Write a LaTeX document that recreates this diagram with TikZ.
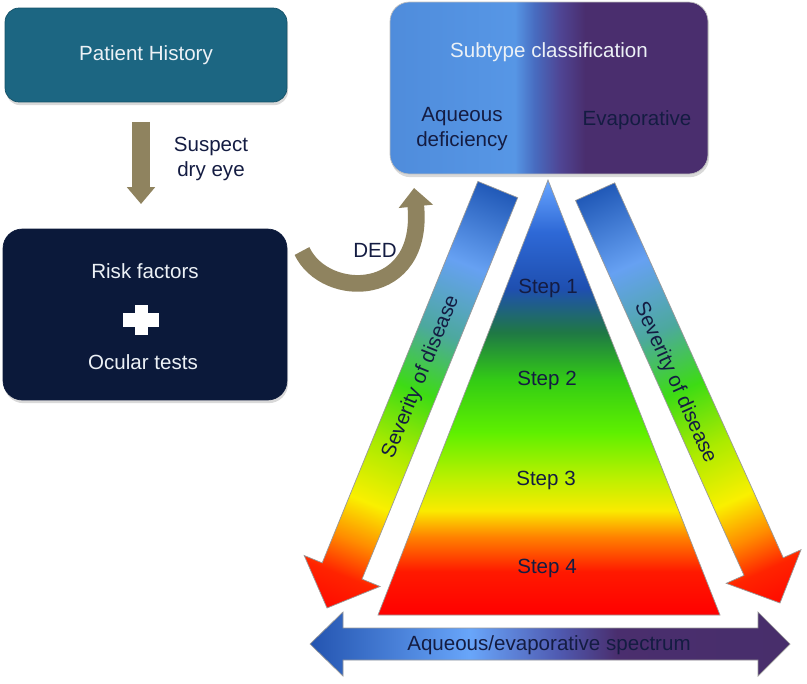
\documentclass[tikz,border=0pt]{standalone}
\usepackage{fontspec}
\setmainfont{Liberation Sans}
\usetikzlibrary{arrows.meta,calc,shadows}

\definecolor{histteal}{RGB}{28,102,130}
\definecolor{risknavy}{RGB}{11,25,58}
\definecolor{khaki}{RGB}{143,131,95}
\definecolor{inktext}{RGB}{20,28,66}
\definecolor{boxtext}{RGB}{236,241,246}

\pgfdeclareverticalshading{stepshade}{100bp}{rgb(0bp)=(1,0,0); rgb(25bp)=(1,0,0);
  rgb(30bp)=(1,0.1,0); rgb(34bp)=(1,0.51,0); rgb(37bp)=(0.98,0.92,0);
  rgb(40.5bp)=(0.75,0.94,0); rgb(46bp)=(0.37,0.94,0); rgb(52bp)=(0.2,0.8,0.08);
  rgb(57.5bp)=(0.12,0.47,0.27); rgb(62.5bp)=(0.12,0.31,0.69); rgb(69bp)=(0.18,0.41,0.84);
  rgb(75bp)=(0.41,0.65,1); rgb(100bp)=(0.41,0.65,1)}
\pgfdeclareverticalshading{sevshade}{100bp}{rgb(0bp)=(1,0.04,0); rgb(25bp)=(1,0.04,0);
  rgb(29bp)=(1,0.14,0); rgb(33bp)=(1,0.55,0); rgb(37.5bp)=(0.98,0.94,0);
  rgb(44bp)=(0.67,0.92,0); rgb(51bp)=(0.24,0.86,0.08); rgb(58bp)=(0.3,0.66,0.62);
  rgb(66bp)=(0.4,0.63,0.95); rgb(75bp)=(0.13,0.35,0.72); rgb(100bp)=(0.13,0.35,0.72)}
\pgfdeclarehorizontalshading{subshade}{100bp}{rgb(0bp)=(0.31,0.55,0.86); rgb(25bp)=(0.31,0.55,0.86);
  rgb(44.6bp)=(0.34,0.59,0.9); rgb(47.8bp)=(0.28,0.42,0.75); rgb(51.7bp)=(0.31,0.27,0.58);
  rgb(55.7bp)=(0.29,0.18,0.43); rgb(75bp)=(0.29,0.18,0.43); rgb(100bp)=(0.29,0.18,0.43)}
\pgfdeclarehorizontalshading{specshade}{100bp}{rgb(0bp)=(0.14,0.33,0.69); rgb(25bp)=(0.14,0.33,0.69);
  rgb(41.7bp)=(0.41,0.65,0.98); rgb(51bp)=(0.31,0.35,0.69); rgb(57bp)=(0.29,0.18,0.43);
  rgb(75bp)=(0.28,0.18,0.42); rgb(100bp)=(0.28,0.18,0.42)}

\tikzset{
  boxshadow/.style={drop shadow={opacity=0.3, shadow xshift=0.6pt, shadow yshift=-1.8pt}},
  histbox/.style={rectangle, rounded corners=8pt, fill=histteal, draw=histteal!80!black,
    minimum width=5.64cm, minimum height=1.88cm, outer sep=0pt, text=boxtext, boxshadow},
  riskbox/.style={rectangle, rounded corners=11pt, fill=risknavy, draw=risknavy,
    minimum width=5.68cm, minimum height=3.42cm, outer sep=0pt, boxshadow},
  subbox/.style={rectangle, rounded corners=11pt, shade, shading=subshade, draw=black!25,
    minimum width=6.36cm, minimum height=3.44cm, outer sep=0pt, boxshadow},
  ink/.style={text=inktext},
  light/.style={text=boxtext},
  dryarrow/.style={draw=khaki, line width=10pt, -{Triangle[width=15.5pt,length=9.6pt]}},
  dedarrow/.style={draw=khaki, line width=9.5pt, -{Triangle[width=19pt,length=10.5pt]}},
  sevarrow/.style={shade, shading=sevshade, draw=black!40, line width=0.4pt}
}

\begin{document}
\begin{tikzpicture}[x=0.02cm, y=-0.02cm, every node/.style={font=\fontsize{11.7}{14.2}\selectfont}]
  \useasboundingbox (0,0) rectangle (807,683);

  \node[histbox] (hist) at (146,55) {Patient History};
  \node[riskbox] (risk) at (145,314.5) {};
  \node[subbox] (subtype) at (549,88) {};

  \node[light] (riskf) at (145,271) {Risk factors};
  \fill[white] (123,313) rectangle (159,327);
  \fill[white] (135,305) rectangle (148,335);
  \node[light] (ocular) at (143,362) {Ocular tests};

  \node[light] (subtitle) at (549,52) {Subtype classification};
  \node[ink, align=center] (aqueous) at (462,129) {Aqueous\\deficiency};
  \node[ink] (evap) at (637,120) {Evaporative};

  \draw[dryarrow] ($(hist.south)+(-5,20)$) -- ($(risk.north)+(-4,-25)$);
  \node[ink, align=center] (suspect) at (211,159) {Suspect\\dry eye};

  \draw[dedarrow] ($(risk.north east)+(15,22)$) .. controls (325,300) and (425,300) .. ($(subtype.south west)+(24,14)$);
  \node[ink] (ded) at (375,250) {DED};

  \shade[shading=stepshade, draw=black!40, line width=0.4pt] (548,180) -- (720,615) -- (378,615) -- cycle;
  \node[ink] (step1) at (548,288) {Step 1};
  \node[ink] (step2) at (547,380) {Step 2};
  \node[ink] (step3) at (546,480) {Step 3};
  \node[ink] (step4) at (547,568) {Step 4};

  \begin{scope}[transform canvas={shift={(327,608)}, rotate=-22.2}]
    \shade[sevarrow] (0,0) -- (-41,-40) -- (-21.5,-40) -- (-21.5,-452) -- (21.5,-452) -- (21.5,-40) -- (41,-40) -- cycle;
  \end{scope}
  \begin{scope}[transform canvas={shift={(780,603)}, rotate=24.2}]
    \shade[sevarrow] (0,0) -- (-41,-40) -- (-21.5,-40) -- (-21.5,-451) -- (21.5,-451) -- (21.5,-40) -- (41,-40) -- cycle;
  \end{scope}
  \node[ink, rotate=67.8] (sevleft) at (421,377) {Severity of disease};
  \node[ink, rotate=-65.8] (sevright) at (675,383) {Severity of disease};

  \shade[shading=specshade, draw=black!40, line width=0.4pt] (310,644) -- (343,612) -- (343,628) -- (758,628) -- (758,612)
    -- (790,644) -- (758,676) -- (758,660) -- (343,660) -- (343,676) -- cycle;
  \node[ink] (spectrum) at (549,645) {Aqueous/evaporative spectrum};
\end{tikzpicture}
\end{document}
